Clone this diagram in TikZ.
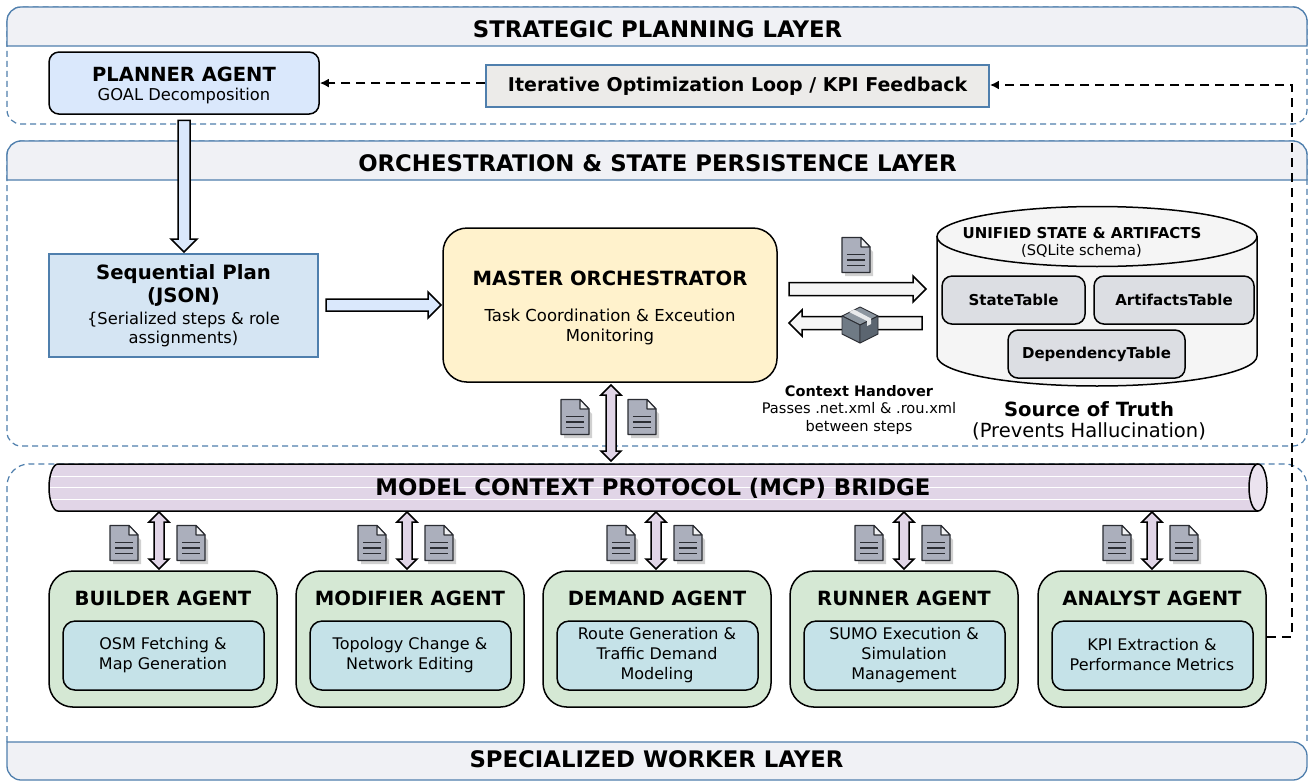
\documentclass[tikz,border=0pt]{standalone}
\usepackage{fontspec}
\setmainfont{DejaVu Sans}
\usetikzlibrary{calc,arrows.meta}
\definecolor{layerblue}{HTML}{4F7FAD}
\definecolor{headfill}{HTML}{F0F1F5}
\definecolor{plannerfill}{HTML}{DAE8FC}
\definecolor{seqfill}{HTML}{D5E5F3}
\definecolor{seqline}{HTML}{4F7FAD}
\definecolor{masterfill}{HTML}{FFF2CC}
\definecolor{feedfill}{HTML}{ECEBE9}
\definecolor{dbfill}{HTML}{F5F5F5}
\definecolor{tablefill}{HTML}{DCDEE3}
\definecolor{busfill}{HTML}{E1D5E7}
\definecolor{busend}{HTML}{EBE3EF}
\definecolor{agentfill}{HTML}{D5E8D4}
\definecolor{taskfill}{HTML}{C5E2E8}
\definecolor{docfill}{HTML}{ABAFBC}
\definecolor{docdark}{HTML}{2B2D33}
\definecolor{boxfront}{HTML}{6F7A85}
\definecolor{boxside}{HTML}{5B6570}
\definecolor{boxtop}{HTML}{8C96A0}
\newcommand{\fs}[2]{\fontsize{#1pt}{#2pt}\selectfont}
\tikzset{
  x=1pt,y=-1pt,
  txt/.style={inner sep=0pt,align=center,text=black},
  boxnode/.style={draw=black,line width=1.5pt,inner sep=0pt,align=center,anchor=north west,xshift=-.7pt,yshift=.7pt},
  layerhead/.style={fill=headfill,draw=layerblue,line width=1.3pt},
  layerbody/.style={draw=layerblue,line width=1.2pt,dash pattern=on 6pt off 4pt},
  feedback/.style={draw=black,line width=2pt,dash pattern=on 9pt off 6pt,-{Latex[length=9pt,width=9pt]}},
  blockone/.style n args={3}{to path={
    -- ($(\tikztostart)!#1!90:(\tikztotarget)$)
    -- ($(\tikztotarget)!#3!(\tikztostart)!#1!90:(\tikztotarget)$)
    -- ($(\tikztotarget)!#3!(\tikztostart)!#2!90:(\tikztotarget)$)
    -- (\tikztotarget)
    -- ($(\tikztotarget)!#3!(\tikztostart)!#2!-90:(\tikztotarget)$)
    -- ($(\tikztotarget)!#3!(\tikztostart)!#1!-90:(\tikztotarget)$)
    -- ($(\tikztostart)!#1!-90:(\tikztotarget)$)
    -- cycle}},
  blocktwo/.style n args={3}{to path={
    -- ($(\tikztostart)!#3!(\tikztotarget)!#2!90:(\tikztotarget)$)
    -- ($(\tikztostart)!#3!(\tikztotarget)!#1!90:(\tikztotarget)$)
    -- ($(\tikztotarget)!#3!(\tikztostart)!#1!90:(\tikztotarget)$)
    -- ($(\tikztotarget)!#3!(\tikztostart)!#2!90:(\tikztotarget)$)
    -- (\tikztotarget)
    -- ($(\tikztotarget)!#3!(\tikztostart)!#2!-90:(\tikztotarget)$)
    -- ($(\tikztotarget)!#3!(\tikztostart)!#1!-90:(\tikztotarget)$)
    -- ($(\tikztostart)!#3!(\tikztotarget)!#1!-90:(\tikztotarget)$)
    -- ($(\tikztostart)!#3!(\tikztotarget)!#2!-90:(\tikztotarget)$)
    -- cycle}},
  blockstyle/.style={draw=black,line width=1.5pt,line join=miter,fill=#1},
  docicon/.pic={
    \fill[black!30,opacity=.6] (-11,-14) -- (6,-14) -- (17,-3) -- (17,21) -- (-11,21) -- cycle;
    \draw[docdark,line width=1.3pt,fill=docfill,line join=round]
      (-14,-17.5) -- (5,-17.5) -- (14,-8) -- (14,17.5) -- (-14,17.5) -- cycle;
    \draw[docdark,line width=1.1pt,fill=white!85!docfill,line join=round] (5,-17.5) -- (5,-8) -- (14,-8) -- cycle;
    \draw[docdark,line width=1.5pt] (-9,-0.5) -- (9,-0.5) (-9,5) -- (9,5) (-9,10.5) -- (9,10.5);
  },
  boxicon/.pic={
    \fill[boxtop,draw=docdark,line width=.9pt,line join=round] (0,-18) -- (18,-9) -- (0,0) -- (-18,-9) -- cycle;
    \fill[boxfront,draw=docdark,line width=.9pt,line join=round] (-18,-9) -- (0,0) -- (0,18) -- (-18,9) -- cycle;
    \fill[boxside,draw=docdark,line width=.9pt,line join=round] (18,-9) -- (0,0) -- (0,18) -- (18,9) -- cycle;
    \fill[white!80!boxtop] (-11,-13) -- (-6,-15.5) -- (11,-6.5) -- (11,-1) -- (7,1) -- (7,-4) -- cycle;
  },
}
\begin{document}
\begin{tikzpicture}
\useasboundingbox (0,0) rectangle (1309,781);
\fill[white] (0,0) rectangle (1309,781);

% ---- layers
\draw[layerbody] (7,7) [rounded corners=14pt] -- (7,124) -- (1307,124) -- (1307,7) -- cycle;
\draw[layerhead,rounded corners=14pt] (7,46) -- (7,7) -- (1307,7) [sharp corners] -- (1307,46) -- cycle;
\node[txt,font=\bfseries\fs{22.8}{26}] (layerA) at (657.5,29) {STRATEGIC PLANNING LAYER};

\draw[layerbody] (7,141) [rounded corners=14pt] -- (7,446) -- (1307,446) -- (1307,141) -- cycle;
\draw[layerhead,rounded corners=14pt] (7,180) -- (7,141) -- (1307,141) [sharp corners] -- (1307,180) -- cycle;
\node[txt,font=\bfseries\fs{22.8}{26}] (layerB) at (657.5,163) {ORCHESTRATION \& STATE PERSISTENCE LAYER};

\draw[layerbody,rounded corners=22pt] (7,742) -- (7,464) -- (1307,464) -- (1307,742);
\draw[layerhead,rounded corners=14pt] (7,742) -- (7,780) -- (1307,780) -- (1307,742) [sharp corners] -- cycle;
\node[txt,font=\bfseries\fs{22.8}{26}] (layerC) at (656.5,759) {SPECIALIZED WORKER LAYER};

% ---- top row
\node[boxnode,fill=plannerfill,rounded corners=10pt,minimum width=270pt,minimum height=62pt] (planner) at (49,52) {};
\node[txt,font=\bfseries\fs{19.5}{22}] (plannerT) at (184,74) {PLANNER AGENT};
\node[txt,font=\fs{16.3}{19}] (plannerS) at (184,96) {GOAL Decomposition};
\node[boxnode,draw=seqline,fill=feedfill,line width=1.6pt,minimum width=503pt,minimum height=42pt,font=\bfseries\fs{19}{22}] (feed) at (486,65) {Iterative Optimization Loop / KPI Feedback};

% ---- orchestration
\node[boxnode,draw=seqline,line width=1.6pt,fill=seqfill,minimum width=269pt,minimum height=103pt] (seq) at (49,254) {};
\node[txt,font=\bfseries\fs{19.7}{23}] (seqT) at (183.5,285.5) {Sequential Plan\\(JSON)};
\node[txt,font=\fs{16.3}{19}] (seqS) at (183.5,330) {\{Serialized steps \& role\\assignments)};
\node[boxnode,fill=masterfill,rounded corners=24pt,minimum width=334pt,minimum height=154pt] (master) at (443,228) {};
\node[txt,font=\bfseries\fs{19.6}{22}] (masterT) at (610,278) {MASTER ORCHESTRATOR};
\node[txt,font=\fs{16.5}{20}] (masterS) at (610,327) {Task Coordination \& Exceution\\Monitoring};

% ---- database
\draw[line width=1.5pt,fill=dbfill] (937,236) -- (937,356) arc[start angle=180,end angle=360,x radius=160,y radius=-30] -- (1257,236);
\draw[line width=1.5pt,fill=dbfill] (1097,236.5) ellipse[x radius=160,y radius=30];
\node[txt,font=\bfseries\fs{15}{18}] (dbT) at (1082,233) {UNIFIED STATE \& ARTIFACTS};
\node[txt,font=\fs{14.6}{16}] (dbS) at (1081.5,251) {(SQLite schema)};
\node[boxnode,fill=tablefill,rounded corners=10pt,minimum width=143pt,minimum height=48pt,font=\bfseries\fs{15}{18}] (stateT) at (942,276) {StateTable};
\node[boxnode,fill=tablefill,rounded corners=10pt,minimum width=160pt,minimum height=48pt,font=\bfseries\fs{15}{18}] (artT) at (1094,276) {ArtifactsTable};
\node[boxnode,fill=tablefill,rounded corners=10pt,minimum width=177pt,minimum height=48pt,font=\bfseries\fs{15}{18}] (depT) at (1008,330) {DependencyTable};

\node[txt,font=\bfseries\fs{14.5}{18}] (ctxT) at (859,391) {Context Handover};
\node[txt,font=\fs{14.6}{18}] (ctxS) at (859,418) {Passes .net.xml \& .rou.xml\\between steps};
\node[txt,font=\bfseries\fs{19.6}{22}] (truthT) at (1089,409) {Source of Truth};
\node[txt,font=\fs{19.5}{22}] (truthS) at (1089,431) {(Prevents Hallucination)};

% ---- MCP bus
\fill[busfill] (58,464) arc[start angle=90,end angle=270,x radius=9,y radius=-23.5] -- (1258,511) -- (1258,464) -- cycle;
\draw[white,line width=.8pt] (50,476) -- (1250,476) (49,487) -- (1249,487) (50,499) -- (1250,499);
\draw[line width=1.5pt] (1258,464) -- (58,464) arc[start angle=90,end angle=270,x radius=9,y radius=-23.5] -- (1258,511);
\draw[line width=1.5pt,fill=busend] (1258,487.5) ellipse[x radius=9,y radius=23.5];
\node[txt,font=\bfseries\fs{22.8}{26}] (mcp) at (653,488) {MODEL CONTEXT PROTOCOL (MCP) BRIDGE};
\coordinate (busS) at (611,461);

% ---- agents
\foreach \nm/\ox/\ax/\ti/\ta in {
  builder/49/159/BUILDER AGENT/{OSM Fetching \&\\Map Generation},
  modifier/296/407/MODIFIER AGENT/{Topology Change \&\\Network Editing},
  demand/543/656/DEMAND AGENT/{Route Generation \&\\Traffic Demand\\Modeling},
  runner/790/904/RUNNER AGENT/{SUMO Execution \&\\Simulation\\Management},
  analyst/1038/1152/ANALYST AGENT/{KPI Extraction \&\\Performance Metrics}}
{
  \node[boxnode,fill=agentfill,rounded corners=24pt,minimum width=228pt,minimum height=136pt] (\nm) at (\ox,571) {};
  \node[txt,font=\bfseries\fs{19.6}{22}] (\nm T) at (\ox+114,598) {\ti};
  \node[boxnode,fill=taskfill,rounded corners=12pt,minimum width=201pt,minimum height=69pt] (\nm B) at (\ox+14,621) {};
  \node[txt,font=\fs{16}{20}] (\nm S) at (\ox+114,655) {\ta};
  \coordinate (\nm U) at (\ax,512);
  \coordinate (\nm D) at (\ax,569);
  \draw[blockstyle=busfill] (\nm U) to[blocktwo={5pt}{10pt}{10pt}] (\nm D);
  \pic at (\ax-35,543) {docicon};
  \pic at (\ax+32,543) {docicon};
}

% ---- big block arrows
\coordinate (planOut) at (184,120.5);
\coordinate (planIn) at (184,252);
\draw[blockstyle=plannerfill] (planOut) to[blockone={6pt}{13pt}{13pt}] (planIn);
\coordinate (seqOut) at (326,305);
\coordinate (masterIn) at (441,305);
\draw[blockstyle=plannerfill] (seqOut) to[blockone={6pt}{13pt}{13pt}] (masterIn);
\coordinate (toDbA) at (789,289);
\coordinate (toDbB) at (926,289);
\draw[blockstyle=dbfill] (toDbA) to[blockone={6.5pt}{13pt}{13pt}] (toDbB);
\coordinate (fromDbA) at (922,323);
\coordinate (fromDbB) at (789,323);
\draw[blockstyle=dbfill] (fromDbA) to[blockone={6.5pt}{13pt}{13pt}] (fromDbB);
\coordinate (masterOut) at (611,385);
\draw[blockstyle=busfill] (masterOut) to[blocktwo={5pt}{10pt}{10pt}] (busS);
\pic at (575,417) {docicon};
\pic at (642,417) {docicon};
\pic at (856,255) {docicon};
\pic at (860,325) {boxicon};

% ---- feedback loop
\coordinate (loopA) at (1292,637);
\coordinate (loopB) at (1292,85);
\draw[feedback] (analyst.east |- loopA) -- (loopA) -- (loopB) -- (feed.east |- loopB);
\draw[feedback] (feed.west |- planner.east) -- (planner.east);
\end{tikzpicture}
\end{document}
